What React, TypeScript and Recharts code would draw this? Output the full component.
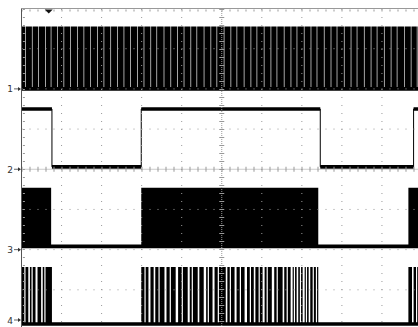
import React from 'react'
import {
  ComposedChart,
  Area,
  Line,
  XAxis,
  YAxis,
  ReferenceLine,
  ReferenceDot
} from 'recharts'

// screen is 10 divisions across, 8 divisions high (0 = bottom edge)
const gridX = [1, 2, 3, 4, 6, 7, 8, 9]
const gridY = [1, 2, 3, 5, 6, 7]
const channelTicks = [6, 4, 2, 0]
const channelNames = ['1', '2', '3', '4']
const triggerTime = 0.68

// channel 1: fast clock over the whole record, light lines where it sits low
const ch1Low = 6.0
const ch1High = 7.55
const ch1Bursts: [number, number][] = [[0, 10.2]]
const ch1Gaps = [
  0.09, 0.26, 0.42, 0.59, 0.73, 0.89, 1.05, 1.22, 1.39, 1.55, 1.72, 1.89, 2.05, 2.22,
  2.39, 2.55, 2.71, 2.89, 3.05, 3.22, 3.37, 3.55, 3.72, 3.89, 4.05, 4.22, 4.37, 4.55,
  4.72, 4.87, 5.05, 5.22, 5.37, 5.55, 5.72, 5.87, 6.05, 6.22, 6.37, 6.55, 6.72, 6.87,
  7.05, 7.22, 7.37, 7.55, 7.72, 7.87, 8.05, 8.22, 8.37, 8.55, 8.72, 8.87, 9.05, 9.22,
  9.37, 9.55, 9.72, 9.87
]

// channel 2: slow square wave
const ch2Low = 4.06
const ch2High = 5.5
const ch2Times = [0, 0.76, 2.99, 7.46, 9.79, 10.2]
const ch2States = [1, 0, 1, 0, 1, 1]

// channel 3: dense bursts, almost solid
const ch3Low = 2.08
const ch3High = 3.54
const ch3Bursts: [number, number][] = [[0, 0.74], [2.99, 7.41], [9.66, 10.2]]
const ch3Gaps: [number, number][] = []

// channel 4: bursts with visible pulses, [time, width]
const ch4Low = 0.15
const ch4High = 1.57
const ch4Bursts: [number, number][] = [[0, 0.76], [2.99, 7.41], [9.66, 10.2]]
const ch4Gaps: [number, number][] = [
  [0.07, 0.03], [0.17, 0.04], [0.25, 0.03], [0.35, 0.05], [0.49, 0.04], [0.57, 0.03],
  [3.07, 0.03], [3.17, 0.05], [3.3, 0.04], [3.42, 0.03], [3.57, 0.05], [3.7, 0.03],
  [3.85, 0.06], [4.0, 0.03], [4.15, 0.05], [4.25, 0.03], [4.4, 0.04], [4.55, 0.06],
  [4.65, 0.03], [4.77, 0.05], [4.9, 0.03], [5.1, 0.04], [5.2, 0.03], [5.32, 0.05],
  [5.45, 0.03], [5.57, 0.06], [5.7, 0.03], [5.8, 0.04], [5.92, 0.03], [6.02, 0.05],
  [6.12, 0.03], [6.25, 0.06], [6.37, 0.03], [6.52, 0.04], [6.62, 0.03], [6.72, 0.05],
  [6.8, 0.03], [6.87, 0.04], [6.95, 0.03], [7.02, 0.05], [7.1, 0.03], [7.17, 0.04],
  [7.27, 0.03], [7.35, 0.03], [9.75, 0.04], [9.85, 0.03]
]

const TRACE = 0.045 // half thickness of a trace, in divisions
const GAP = 0.016

type Pt = { t: number; band: [number, number]; v?: number }

function burstSeries(low: number, high: number, bursts: [number, number][], gaps: [number, number][]) {
  const idle: [number, number] = [low - TRACE, low + TRACE]
  const full: [number, number] = [low - TRACE, high]
  const pts: Pt[] = []
  if (bursts[0][0] > 0) pts.push({ t: 0, band: idle })
  bursts.forEach(([s, e]) => {
    pts.push({ t: s, band: full })
    gaps
      .filter(([g]) => g > s && g < e)
      .forEach(([g, w]) => {
        pts.push({ t: g, band: idle })
        pts.push({ t: g + w, band: full })
      })
    pts.push({ t: e, band: idle })
  })
  return pts
}

const ch1Data = burstSeries(ch1Low, ch1High, ch1Bursts, ch1Gaps.map(g => [g, GAP] as [number, number]))
const ch3Data = burstSeries(ch3Low, ch3High, ch3Bursts, ch3Gaps)
const ch4Data = burstSeries(ch4Low, ch4High, ch4Bursts, ch4Gaps)
const ch2Data: Pt[] = ch2Times.map((t, i) => {
  const lvl = ch2States[i] ? ch2High : ch2Low
  return { t, v: lvl, band: [lvl - TRACE, lvl + TRACE] }
})

function ChannelTick(props: any) {
  const { y, payload } = props
  const name = channelNames[channelTicks.indexOf(payload.value)]
  const yy = Math.min(y, 320)
  return (
    <g>
      <text x={13} y={yy} dy={3.5} textAnchor="end" fontSize={9} fontFamily="DejaVu Sans, sans-serif" fill="#333">
        {name}
      </text>
      <line x1={14} x2={19} y1={yy} y2={yy} stroke="#666" />
      <polygon points={`18,${yy - 2} 21,${yy} 18,${yy + 2}`} fill="#333" />
    </g>
  )
}

function TriggerMark(props: any) {
  const { cx, cy } = props
  return <polygon points={`${cx - 4},${cy + 1} ${cx + 4},${cy + 1} ${cx},${cy + 5}`} fill="#111" />
}

export default function App() {
  const dots = { stroke: '#999', strokeDasharray: '1 7' }
  return (
    <div style={{ position: 'fixed', left: 0, top: 0, width: 418, height: 327, overflow: 'hidden', background: '#fff' }}>
      <ComposedChart width={422} height={330} margin={{ top: 8.5, right: 0, bottom: 0, left: 0.5 }}>
        <XAxis type="number" dataKey="t" domain={[0, 10]} allowDataOverflow hide />
        <YAxis
          type="number"
          domain={[0, 8]}
          allowDataOverflow
          ticks={channelTicks}
          interval={0}
          width={21}
          axisLine={false}
          tickLine={false}
          tick={ChannelTick}
        />
        <Area data={ch1Data} dataKey="band" type="stepAfter" stroke="none" fill="#000" fillOpacity={1} isAnimationActive={false} />
        <Area data={ch2Data} dataKey="band" type="stepAfter" stroke="none" fill="#000" fillOpacity={1} isAnimationActive={false} />
        <Line data={ch2Data} dataKey="v" type="stepAfter" stroke="#000" strokeWidth={1} dot={false} isAnimationActive={false} />
        <Area data={ch3Data} dataKey="band" type="stepAfter" stroke="none" fill="#000" fillOpacity={1} isAnimationActive={false} />
        <Area data={ch4Data} dataKey="band" type="stepAfter" stroke="none" fill="#000" fillOpacity={1} isAnimationActive={false} />

        {gridX.map(x => (
          <ReferenceLine key={'gx' + x} x={x} {...dots} />
        ))}
        {gridY.map(y => (
          <ReferenceLine key={'gy' + y} y={y} {...dots} />
        ))}
        <ReferenceLine x={5} stroke="#999" strokeWidth={5} strokeDasharray="1 7" />
        <ReferenceLine x={5} stroke="#999" strokeDasharray="1 1" />
        <ReferenceLine y={4} stroke="#999" strokeWidth={5} strokeDasharray="1 7" />
        <ReferenceLine y={4} stroke="#999" strokeDasharray="1 1" />
        <ReferenceLine y={8} stroke="#999" />
        <ReferenceLine y={7.95} stroke="#999" strokeWidth={2} strokeDasharray="1 7" />
        <ReferenceLine x={0} stroke="#555" />
        <ReferenceLine x={0.06} stroke="#999" strokeWidth={2} strokeDasharray="1 7" />
        <ReferenceDot x={triggerTime} y={8} r={4} shape={TriggerMark} />
      </ComposedChart>
    </div>
  )
}
